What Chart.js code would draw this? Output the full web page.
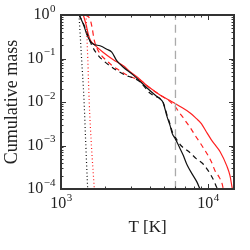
<!DOCTYPE html>
<html>
<head>
<meta charset="utf-8">
<script src="https://cdn.jsdelivr.net/npm/chart.js@4.4.1/dist/chart.umd.min.js"></script>
<style>
  html, body { margin: 0; padding: 0; background: #fff; }
  #wrap { width: 250px; height: 250px; }
</style>
</head>
<body>
<div id="wrap"><canvas id="mycanvas" width="250" height="250"></canvas></div>
<script>
// values (T in K, cumulative mass)
var blackSolidT = [1330, 1433, 1496, 1575, 1659, 1842, 2046, 2213, 2393, 2641, 3090, 3446, 3846, 4360, 4710, 4940, 5100, 5260, 5510, 5700, 6000, 6300, 6800, 7190, 7800, 8420, 8800];
var blackSolidM = [1.0, 0.56, 0.36, 0.255, 0.214, 0.196, 0.164, 0.14, 0.089, 0.064, 0.042, 0.03, 0.021, 0.0145, 0.0118, 0.0098, 0.0068, 0.0046, 0.0029, 0.0019, 0.0014, 0.001, 0.00058, 0.00036, 0.00022, 0.000142, 0.0001];

var blackDashT = [1330, 1456, 1496, 1600, 1703, 1892, 2268, 2800, 3090, 3446, 4027, 4400, 4710, 4940, 5100, 5260, 5510, 5700, 5950, 6280, 6610, 7000, 7550, 8300, 9290, 9900, 10430, 11000, 11460, 11650];
var blackDashM = [1.0, 0.52, 0.40, 0.22, 0.148, 0.097, 0.06, 0.040, 0.036, 0.029, 0.016, 0.0135, 0.012, 0.0098, 0.0072, 0.005, 0.0031, 0.0021, 0.0016, 0.0012, 0.00096, 0.00083, 0.00068, 0.0005, 0.00037, 0.00028, 0.00021, 0.00015, 0.000108, 0.0001];

var blackDotT = [1326, 1380, 1434, 1475, 1518];
var blackDotM = [1, 0.1, 0.011, 0.001, 0.0001];

var redSolidT = [1418, 1479, 1534, 1592, 1703, 1940, 2268, 2654, 2946, 3446, 3828, 4300, 4710, 5505, 6450, 7550, 8300, 9000, 9700, 10500, 11300, 12070, 13400, 14100, 14500, 14630];
var redSolidM = [1.0, 0.61, 0.36, 0.255, 0.2, 0.138, 0.094, 0.068, 0.05, 0.033, 0.024, 0.018, 0.0145, 0.0108, 0.0079, 0.0056, 0.0042, 0.0032, 0.0021, 0.00137, 0.00098, 0.00072, 0.00034, 0.0002, 0.000117, 0.0001];

var redDashT = [1470, 1575, 1630, 1676, 1760, 1892, 1992, 2213, 2455, 2725, 3025, 3446, 3828, 4300, 4710, 5505, 5970, 6450, 6800, 7170, 7550, 8170, 8830, 9290, 10050, 10600, 11160, 11750, 12390, 12700];
var redDashM = [1.0, 0.8, 0.5, 0.28, 0.17, 0.115, 0.097, 0.07, 0.055, 0.044, 0.037, 0.032, 0.024, 0.018, 0.0145, 0.0102, 0.0078, 0.0054, 0.0043, 0.0033, 0.0026, 0.0017, 0.00115, 0.00088, 0.00057, 0.0004, 0.00026, 0.0002, 0.00014, 0.0001];

var redDotT = [1480, 1520, 1555, 1610, 1685];
var redDotM = [1, 0.1, 0.01, 0.001, 0.0001];

var vlineT = [6000, 6000];
var vlineM = [0.0001, 1];

var xMin = 1000, xMax = 15000;
var yMin = 0.0001, yMax = 1;
var xLabelExp = [3, 4];
var yLabelExp = [0, -1, -2, -3, -4];

function pts(t, m) {
  var out = [];
  for (var i = 0; i < t.length; i++) out.push({x: t[i], y: m[i]});
  return out;
}

function line(t, m, color, dash, w) {
  return {
    data: pts(t, m),
    borderColor: color,
    borderWidth: w || 1.2,
    borderDash: dash,
    pointRadius: 0,
    fill: false,
    cubicInterpolationMode: 'monotone'
  };
}

var baseFont = '16px "Liberation Serif"';
var expFont = '11px "Liberation Serif"';

function powLabel(ctx, e, x, y, align) {
  // "10" with a raised exponent, exponent uses a real minus sign
  var ex = String(e).replace('-', '\u2212');
  ctx.font = baseFont;
  var w1 = ctx.measureText('10').width;
  ctx.font = expFont;
  var w2 = ctx.measureText(ex).width;
  var x0 = align == 'right' ? x - w1 - w2 : x - (w1 + w2) / 2;
  ctx.textAlign = 'left';
  ctx.textBaseline = 'middle';
  ctx.font = baseFont;
  ctx.fillText('10', x0, y);
  ctx.font = expFont;
  ctx.fillText(ex, x0 + w1 + 0.5, y - 6);
}

// frame, inward ticks on all four sides, power-of-ten labels
var frame = {
  id: 'frame',
  afterDraw: function(chart) {
    var ctx = chart.ctx, a = chart.chartArea;
    var xs = chart.scales.x, ys = chart.scales.y;
    ctx.save();
    ctx.strokeStyle = '#333';
    ctx.lineWidth = 1;
    for (var n = 3; n <= 4; n++) {
      for (var k = 1; k <= 9; k++) {
        var v = k * Math.pow(10, n);
        if (v < xMin || v > xMax) continue;
        var px = Math.round(xs.getPixelForValue(v)) + 0.5;
        var len = k == 1 ? 5 : 2.5;
        ctx.beginPath();
        ctx.moveTo(px, a.bottom); ctx.lineTo(px, a.bottom - len);
        ctx.moveTo(px, a.top); ctx.lineTo(px, a.top + len);
        ctx.stroke();
      }
    }
    for (var n = -4; n <= 0; n++) {
      for (var k = 1; k <= 9; k++) {
        var v = k * Math.pow(10, n);
        if (v < yMin || v > yMax) continue;
        var py = Math.round(ys.getPixelForValue(v)) + 0.5;
        var len = k == 1 ? 5 : 2.5;
        ctx.beginPath();
        ctx.moveTo(a.left, py); ctx.lineTo(a.left + len, py);
        ctx.moveTo(a.right, py); ctx.lineTo(a.right - len, py);
        ctx.stroke();
      }
    }
    ctx.lineWidth = 2;
    ctx.strokeRect(a.left, a.top, a.right - a.left, a.bottom - a.top);

    ctx.fillStyle = '#222';
    xLabelExp.forEach(function(e) {
      powLabel(ctx, e, xs.getPixelForValue(Math.pow(10, e)), a.bottom + 15, 'center');
    });
    yLabelExp.forEach(function(e) {
      powLabel(ctx, e, a.left - 6, ys.getPixelForValue(Math.pow(10, e)), 'right');
    });
    ctx.restore();
  }
};

var ctx = document.getElementById('mycanvas');
var chart = new Chart(ctx, {
  type: 'line',
  data: {
    datasets: [
      line(vlineT, vlineM, '#aaaaaa', [8, 5], 1.3),
      line(blackDotT, blackDotM, '#111111', [1, 2.5]),
      line(redDotT, redDotM, '#ff2020', [1, 2.5]),
      line(blackDashT, blackDashM, '#111111', [5, 4]),
      line(redDashT, redDashM, '#ff2020', [5, 4]),
      line(blackSolidT, blackSolidM, '#111111', []),
      line(redSolidT, redSolidM, '#ff2020', [])
    ]
  },
  options: {
    responsive: false,
    animation: false,
    layout: { padding: { left: 1, right: 16, top: 15, bottom: 4 } },
    plugins: { legend: { display: false }, tooltip: { enabled: false } },
    scales: {
      x: {
        type: 'logarithmic',
        min: xMin, max: xMax,
        grid: { display: false },
        border: { display: false },
        afterFit: function(s) { s.height = 57; },
        ticks: { display: false },
        title: {
          display: true, text: 'T [K]', color: '#222', padding: { top: 0, bottom: 8 },
          font: { family: 'Liberation Serif', size: 17 }
        }
      },
      y: {
        type: 'logarithmic',
        min: yMin, max: yMax,
        grid: { display: false },
        border: { display: false },
        afterFit: function(s) { s.width = 60; },
        ticks: { display: false },
        title: {
          display: true, text: 'Cumulative mass', color: '#222', padding: 0,
          font: { family: 'Liberation Serif', size: 18 }
        }
      }
    }
  },
  plugins: [frame]
});
</script>
</body>
</html>
